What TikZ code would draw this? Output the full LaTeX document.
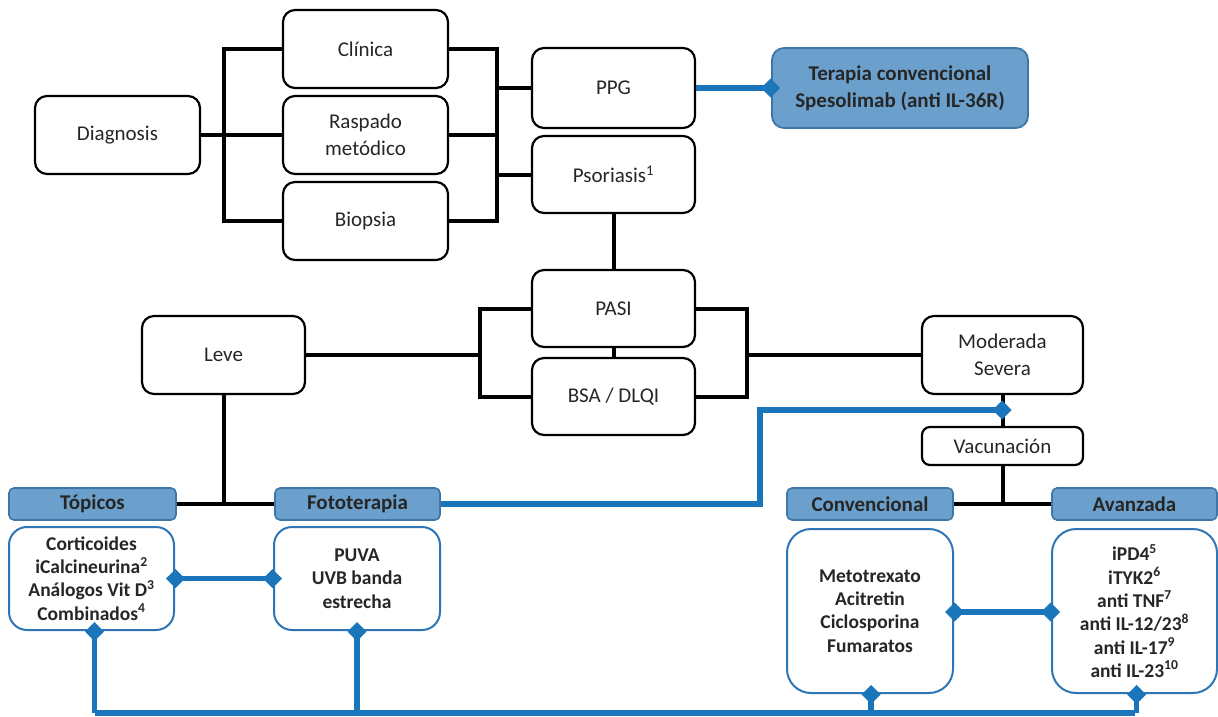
\documentclass[tikz,border=0pt]{standalone}
\usepackage{fontspec}
\setmainfont{Carlito}
\usetikzlibrary{arrows.meta,calc}
\definecolor{hfill}{RGB}{108,160,204}
\definecolor{hdraw}{RGB}{62,118,168}
\definecolor{bline}{RGB}{27,117,187}
\definecolor{bbord}{RGB}{46,117,182}
\definecolor{txt}{RGB}{38,38,38}
\begin{document}
\begin{tikzpicture}[x=1pt,y=-1pt,
  bbox/.style={draw=black, line width=2.2pt, rounded corners=12pt, fill=white, text=txt,
    align=center, font=\fontsize{21}{27}\selectfont, inner sep=0pt},
  hbox/.style={draw=hdraw, fill=hfill, line width=1.6pt, rounded corners=5pt,
    font=\fontsize{21}{24}\bfseries\selectfont, text=txt, inner sep=0pt, minimum height=32},
  body/.style={draw=bbord, line width=2pt, fill=white, rounded corners=18pt,
    font=\fontsize{19.5}{23.3}\bfseries\selectfont, text=txt, align=center, inner sep=0pt},
  conn/.style={line width=4pt, black},
  bl/.style={line width=5.5pt, bline},
  dend/.style={-{Diamond[length=19pt,width=19pt]}},
  dstart/.style={{Diamond[length=19pt,width=19pt]}-},
  dboth/.style={{Diamond[length=19pt,width=19pt]}-{Diamond[length=19pt,width=19pt]}},
]
\useasboundingbox (0,0) rectangle (1218,717);

% top group
\node[bbox, minimum width=165, minimum height=78] (diag) at (117.5,135) {Diagnosis};
\node[bbox, minimum width=165, minimum height=78] (clin) at (365.5,49) {Clínica};
\node[bbox, minimum width=165, minimum height=78] (rasp) at (365.5,135) {Raspado\\metódico};
\node[bbox, minimum width=165, minimum height=78] (bio) at (365.5,221) {Biopsia};
\node[bbox, minimum width=163, minimum height=80] (ppg) at (613.5,88) {PPG};
\node[bbox, minimum width=163, minimum height=77] (pso) at (613.5,174.5) {Psoriasis\textsuperscript{1}};
\node[draw=hdraw, fill=hfill, line width=1.8pt, rounded corners=12pt, text=txt, align=center,
  font=\fontsize{21}{27}\bfseries\selectfont, inner sep=0pt,
  minimum width=256, minimum height=80] (ter) at (900,88) {Terapia convencional\\Spesolimab (anti IL-36R)};

% severity
\node[bbox, minimum width=163, minimum height=77] (pasi) at (613.5,308.5) {PASI};
\node[bbox, minimum width=163, minimum height=77] (bsa) at (613.5,396.5) {BSA / DLQI};
\node[bbox, minimum width=163, minimum height=78] (leve) at (223.5,355) {Leve};
\node[bbox, minimum width=161, minimum height=78] (mod) at (1002.5,355) {Moderada\\Severa};
\node[bbox, minimum width=161, minimum height=38, rounded corners=8pt] (vac) at (1002.5,446) {Vacunación};

% headers
\node[hbox, minimum width=167] (topH) at (92.5,504) {Tópicos};
\node[hbox, minimum width=165] (fotH) at (357.5,504) {Fototerapia};
\node[hbox, minimum width=166] (conH) at (870,504) {Convencional};
\node[hbox, minimum width=165] (avaH) at (1134.5,504) {Avanzada};

% bodies
\node[body, minimum width=165, minimum height=103] (topB) at (91.5,578.5)
  {Corticoides\\iCalcineurina\textsuperscript{2}\\Análogos Vit D\textsuperscript{3}\\Combinados\textsuperscript{4}};
\node[body, minimum width=166, minimum height=103] (fotB) at (357,578.5) {PUVA\\UVB banda\\estrecha};
\node[body, minimum width=166, minimum height=164, rounded corners=24pt] (conB) at (870,611)
  {Metotrexato\\Acitretin\\Ciclosporina\\Fumaratos};
\node[body, minimum width=165, minimum height=164, rounded corners=24pt] (avaB) at (1134.5,611)
  {iPD4\textsuperscript{5}\\iTYK2\textsuperscript{6}\\anti TNF\textsuperscript{7}\\anti IL-12/23\textsuperscript{8}\\anti IL-17\textsuperscript{9}\\anti IL-23\textsuperscript{10}};

% bracket coordinates
\coordinate (lb1) at (224,0);
\coordinate (rb1) at (497,0);
\coordinate (lb2) at (480,0);
\coordinate (rb2) at (747,0);
\coordinate (bv) at (760,410);
\coordinate (bot) at (0,713);

% black connectors
\draw[conn] (diag.east) -- (rasp.west);
\draw[conn] (clin.west) -- (clin.west -| lb1) -- (bio.west -| lb1) -- (bio.west);
\draw[conn] (clin.east) -- (clin.east -| rb1) -- (bio.east -| rb1) -- (bio.east);
\draw[conn] (rasp.east) -- (rasp.east -| rb1);
\draw[conn] (ppg.west) -- (ppg.west -| rb1);
\draw[conn] (pso.west) -- (pso.west -| rb1);
\draw[conn] (pso.south) -- (pasi.north);
\draw[conn] (pasi.south) -- (bsa.north);
\draw[conn] (pasi.west) -- (pasi.west -| lb2) -- (bsa.west -| lb2) -- (bsa.west);
\draw[conn] (pasi.east) -- (pasi.east -| rb2) -- (bsa.east -| rb2) -- (bsa.east);
\draw[conn] (leve.east) -- (leve.east -| lb2);
\draw[conn] (mod.west) -- (mod.west -| rb2);
\draw[conn] (leve.south) -- (leve.south |- topH.east);
\draw[conn] (topH.east) -- (fotH.west);
\draw[conn] (mod.south) -- (vac.north);
\draw[conn] (vac.south) -- (vac.south |- conH.east);
\draw[conn] (conH.east) -- (avaH.west);

% blue connectors
\draw[bl, dend] (ppg.east) -- ($(ter.west)+(9,0)$);
\draw[bl, dend] (fotH.east) -| (bv) -- ($(mod.south |- bv)+(9,0)$);
\draw[bl, dboth] ($(topB.east)+(-9,0)$) -- ($(fotB.west)+(9,0)$);
\draw[bl, dboth] ($(conB.east)+(-9,1)$) -- ($(avaB.west)+(9,1)$);
\draw[bl] ($(topB.south |- bot)+(3,0)$) -- (avaB.south |- bot);
\draw[bl, dstart] ($(topB.south)+(3,-9)$) -- ($(topB.south |- bot)+(3,0)$);
\draw[bl, dstart] ($(fotB.south)+(0,-9)$) -- (fotB.south |- bot);
\draw[bl, dstart] ($(conB.south)+(1,-9)$) -- ($(conB.south |- bot)+(1,0)$);
\draw[bl, dstart] ($(avaB.south)+(2,-9)$) -- ($(avaB.south |- bot)+(2,0)$);
\end{tikzpicture}
\end{document}
